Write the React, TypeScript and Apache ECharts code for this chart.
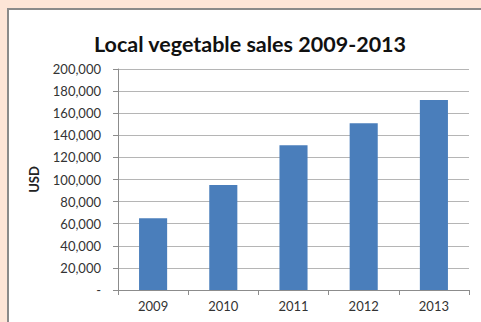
import React, { useEffect, useRef } from "react";
import * as echarts from "echarts";

const categories = ["2009", "2010", "2011", "2012", "2013"];
const sales = [65000, 95000, 131000, 151000, 172000];
const yTicks = [0, 20000, 40000, 60000, 80000, 100000, 120000, 140000, 160000, 180000, 200000];

const FONT = "Lato, 'Noto Sans', sans-serif";

export default function App() {
  const ref = useRef<HTMLDivElement>(null);
  useEffect(() => {
    document.body.style.margin = "0";
    const chart = echarts.init(ref.current!, null, { renderer: "svg" });
    chart.setOption({
      animation: false,
      backgroundColor: "#FDE5D7",
      graphic: [
        {
          type: "rect",
          z: -10,
          shape: { x: 8, y: 9, width: 490, height: 330 },
          style: { fill: "#ffffff", stroke: "#8a8a8a", lineWidth: 2 },
        },
      ],
      title: {
        text: "Local vegetable sales 2009-2013",
        left: 245,
        textAlign: "center",
        top: 28,
        textStyle: { fontFamily: FONT, fontSize: 21.5, fontWeight: "bold", color: "#111" },
      },
      grid: { left: 118, right: 12, top: 69, bottom: 32 },
      xAxis: {
        type: "category",
        data: categories,
        axisLine: { show: true, lineStyle: { color: "#8c8c8c" } },
        axisTick: { show: true, length: 5, lineStyle: { color: "#8c8c8c" } },
        axisLabel: { fontFamily: FONT, fontSize: 13, color: "#333", margin: 9 },
      },
      yAxis: {
        type: "value",
        min: 0,
        max: yTicks[yTicks.length - 1],
        interval: yTicks[1] - yTicks[0],
        name: "USD",
        nameLocation: "middle",
        nameGap: 78,
        nameRotate: 90,
        nameTextStyle: { fontFamily: FONT, fontSize: 13, fontWeight: "bold", color: "#222" },
        axisLine: { show: true, lineStyle: { color: "#8c8c8c" } },
        axisTick: { show: true, length: 5, lineStyle: { color: "#8c8c8c" } },
        axisLabel: {
          fontFamily: FONT,
          fontSize: 13,
          color: "#333",
          margin: 17,
          formatter: (v: number) => (v === 0 ? "-" : v.toLocaleString("en-US")),
        },
        splitLine: { show: true, lineStyle: { color: "#b5b5b5" } },
      },
      series: [
        {
          type: "bar",
          data: sales,
          barWidth: "40%",
          itemStyle: { color: "#4A7EBB" },
        },
      ],
    });
    return () => chart.dispose();
  }, []);
  return <div ref={ref} style={{ position: "absolute", left: 0, top: 0, width: 481, height: 322 }} />;
}
